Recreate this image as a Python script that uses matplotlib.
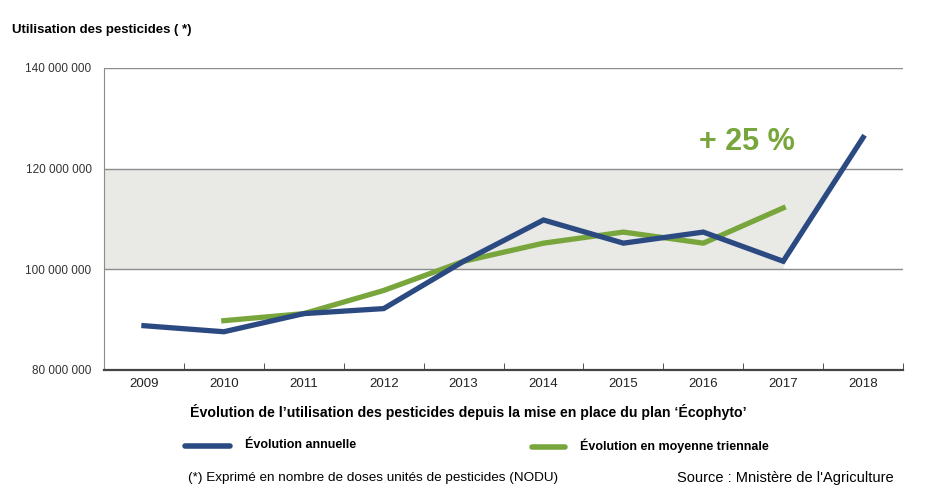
import numpy as np
from matplotlib import pyplot as plt
from matplotlib.lines import Line2D

years = ['2009', '2010', '2011', '2012', '2013', '2014', '2015', '2016', '2017', '2018']
annual = [88.8, 87.6, 91.2, 92.2, 101.6, 109.8, 105.2, 107.4, 101.6, 126.2]  # millions NODU
triennial = [89.8, 91.2, 95.8, 101.6, 105.2, 107.4, 105.2, 112.2]  # 2010 -> 2017
y_ticks = [80, 100, 120, 140]
band = (100, 120)

BLUE = '#2b4a82'
GREEN = '#78a63c'

plt.rcParams['font.family'] = ['Liberation Sans', 'DejaVu Sans']

fig = plt.figure(figsize=(9.27, 5.0), dpi=100)
ax = fig.add_axes([0.1122, 0.26, 0.862, 0.604])

x = np.arange(len(years))
ax.set_xlim(-0.5, len(years) - 0.5)
ax.set_ylim(80, 140)

# grey band, stopping where the annual line leaves it
yy = np.linspace(band[0], band[1], 200)
xr = np.interp(yy, [annual[-2], annual[-1]], [x[-2], x[-1]])
ax.fill_betweenx(yy, -0.5, xr, color='#e9e9e6', lw=0, zorder=1)

for v in y_ticks[1:]:
    ax.axhline(v, color='#8c8c8c', lw=1.0, zorder=2)

ax.plot(x, annual, color=BLUE, lw=3.8, solid_joinstyle='miter', zorder=4)
ax.plot(x[1:9], triennial, color=GREEN, lw=3.8, zorder=3)

ax.set_yticks(y_ticks)
ax.set_yticklabels([f'{v * 1000000:,}'.replace(',', ' ') for v in y_ticks])
ax.set_xticks(x)
ax.set_xticklabels(years)
ax.set_xticks(np.append(x[:-1] + 0.5, len(years) - 0.5), minor=True)
ax.tick_params(axis='x', which='major', length=0, labelsize=9.5, pad=6, colors='#222222')
ax.tick_params(axis='x', which='minor', length=5, direction='in', color='#333333')
ax.tick_params(axis='y', length=0, labelsize=8.5, pad=9, colors='#333333')

ax.spines['right'].set_visible(False)
ax.spines['top'].set_visible(False)
ax.spines['left'].set_color('#8c8c8c')
ax.spines['bottom'].set_color('#444444')
ax.spines['bottom'].set_linewidth(1.6)

ax.text(7.54, 125.2, '+ 25 %', color=GREEN, fontsize=22, fontweight='bold',
        ha='center', va='center')

fig.text(12 / 927, 1 - 30 / 500, 'Utilisation des pesticides ( *)', fontsize=9.5,
         fontweight='bold', va='center')
fig.text(468 / 927, 1 - 412 / 500,
         "Évolution de l\u2019utilisation des pesticides depuis la mise en place du plan \u2018Écophyto\u2019",
         fontsize=10.2, fontweight='bold', ha='center', va='center')

fig.add_artist(Line2D([185 / 927, 230 / 927], [1 - 446 / 500] * 2, color=BLUE, lw=4,
                      solid_capstyle='round'))
fig.text(245 / 927, 1 - 445 / 500, 'Évolution annuelle', fontsize=9, fontweight='bold', va='center')
fig.add_artist(Line2D([532 / 927, 565 / 927], [1 - 447 / 500] * 2, color=GREEN, lw=4,
                      solid_capstyle='round'))
fig.text(580 / 927, 1 - 446 / 500, 'Évolution en moyenne triennale', fontsize=9,
         fontweight='bold', va='center')

fig.text(188 / 927, 1 - 478 / 500, '(*) Exprimé en nombre de doses unités de pesticides (NODU)',
         fontsize=9.7, va='center')
fig.text(677 / 927, 1 - 478 / 500, "Source : Mnistère de l'Agriculture", fontsize=10.5, va='center')

fig.savefig('out.png', dpi=100)
